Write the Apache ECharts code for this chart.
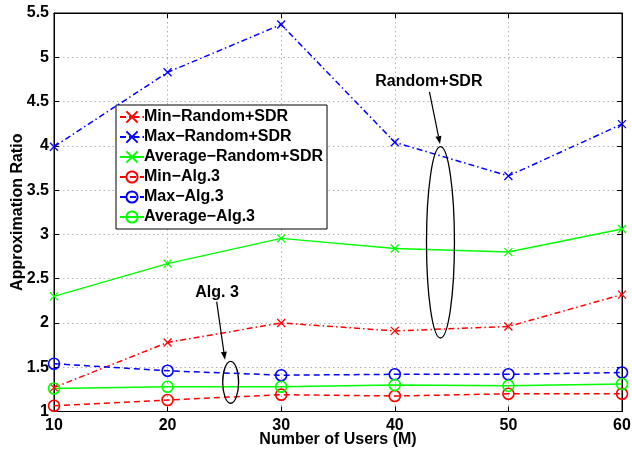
<!DOCTYPE html>
<html>
<head>
<meta charset="utf-8">
<script src="https://cdn.jsdelivr.net/npm/echarts@6/dist/echarts.min.js"></script>
<style>html,body{margin:0;padding:0;background:#fff}#c{width:632px;height:449px}</style>
</head>
<body>
<div id="c"></div>
<script>
const users = [10, 20, 30, 40, 50, 60];
const minRandom = [1.27, 1.78, 2.00, 1.91, 1.96, 2.32];
const maxRandom = [3.99, 4.83, 5.37, 4.04, 3.66, 4.245];
const avgRandom = [2.30, 2.67, 2.955, 2.84, 2.80, 3.06];
const minAlg = [1.065, 1.13, 1.19, 1.175, 1.20, 1.20];
const maxAlg = [1.54, 1.46, 1.41, 1.42, 1.42, 1.44];
const avgAlg = [1.26, 1.28, 1.28, 1.30, 1.29, 1.31];
const seriesNames = ['Min−Random+SDR','Max−Random+SDR','Average−Random+SDR','Min−Alg.3','Max−Alg.3','Average−Alg.3'];
const yTicks = [1, 1.5, 2, 2.5, 3, 3.5, 4, 4.5, 5, 5.5];

const FONT = 'Liberation Sans, Arial, Helvetica, sans-serif';
const RED = '#ff0000', BLUE = '#0000ff', GREEN = '#00ff00';
const CROSS = 'path://M0,0L10,10M10,0L0,10';
const dashDot = [6, 3, 1.5, 3];
const dashed = [6, 4];

function mk(name, vals, color, sym, lineType) {
  const isCross = sym === 'x';
  return {
    name: name, type: 'line',
    data: users.map((u, i) => [u, vals[i]]),
    symbol: isCross ? CROSS : 'circle',
    symbolSize: isCross ? 8 : 11,
    showAllSymbol: true,
    lineStyle: { color: color, width: 1.5, type: lineType },
    itemStyle: { color: isCross ? color : 'rgba(255,255,255,0)', borderColor: color, borderWidth: isCross ? 1.3 : 1.6 },
    emphasis: { disabled: true },
    animation: false,
    z: 3
  };
}

const chart = echarts.init(document.getElementById('c'), null, { renderer: 'canvas' });
const gridBox = { left: 54, top: 13, right: 10, bottom: 37.5 };
const axisCommon = {
  axisLine: { show: true, lineStyle: { color: '#000', width: 1 } },
  axisTick: { show: true, inside: true, length: 5, lineStyle: { color: '#000' } },
};
chart.setOption({
  backgroundColor: '#fff',
  animation: false,
  grid: Object.assign({ show: true, borderColor: '#000', borderWidth: 1, backgroundColor: 'transparent', containLabel: false, outerBoundsMode: 'none' }, gridBox),
  xAxis: [
    Object.assign({
      type: 'value', min: 10, max: 60, interval: 10, position: 'bottom',
      name: 'Number of Users (M)', nameLocation: 'middle', nameGap: 20, nameMoveOverlap: false,
      nameTextStyle: { fontFamily: FONT, fontWeight: 'bold', fontSize: 16, color: '#000' },
      axisLabel: { fontFamily: FONT, fontWeight: 'bold', fontSize: 16, color: '#000', margin: 6 },
      splitLine: { show: true, lineStyle: { color: '#b0b0b0', type: [1.5, 3], width: 1 } }
    }, axisCommon),
    Object.assign({
      type: 'value', min: 10, max: 60, interval: 10, position: 'top',
      axisLabel: { show: false }, splitLine: { show: false }
    }, axisCommon)
  ],
  yAxis: [
    Object.assign({
      type: 'value', min: yTicks[0], max: yTicks[yTicks.length - 1], interval: 0.5, position: 'left',
      name: 'Approximation Ratio', nameLocation: 'middle', nameGap: 28, nameRotate: 90, nameMoveOverlap: false,
      nameTextStyle: { fontFamily: FONT, fontWeight: 'bold', fontSize: 16, color: '#000' },
      axisLabel: { fontFamily: FONT, fontWeight: 'bold', fontSize: 16, color: '#000', margin: 5,
        formatter: v => String(v) },
      splitLine: { show: true, lineStyle: { color: '#b0b0b0', type: [1.5, 3], width: 1 } }
    }, axisCommon),
    Object.assign({
      type: 'value', min: yTicks[0], max: yTicks[yTicks.length - 1], interval: 0.5, position: 'right',
      axisLabel: { show: false }, splitLine: { show: false }
    }, axisCommon)
  ],
  legend: {
    orient: 'vertical', left: 116, top: 105,
    data: seriesNames,
    backgroundColor: '#fff', borderColor: '#000', borderWidth: 1,
    padding: [4, 4, 4, 3],
    itemWidth: 24, itemHeight: 14, itemGap: 4,
    textStyle: { fontFamily: FONT, fontWeight: 'bold', fontSize: 16, color: '#000', lineHeight: 16, padding: [0, 0, 0, -5] },
    selectedMode: false
  },
  series: [
    mk(seriesNames[0], minRandom, RED, 'x', dashDot),
    mk(seriesNames[1], maxRandom, BLUE, 'x', dashDot),
    mk(seriesNames[2], avgRandom, GREEN, 'x', 'solid'),
    mk(seriesNames[3], minAlg, RED, 'o', dashed),
    mk(seriesNames[4], maxAlg, BLUE, 'o', dashed),
    mk(seriesNames[5], avgAlg, GREEN, 'o', 'solid')
  ]
});

// Annotations defined in data coordinates
const annotations = [
  { text: 'Random+SDR', textAt: [43.0, 4.72], from: [43.05, 4.61], to: [43.98, 4.02], ell: [44.02, 2.91, 1.23, 1.08] },
  { text: 'Alg. 3', textAt: [24.35, 2.34], from: [24.32, 2.24], to: [25.05, 1.584], ell: [25.55, 1.33, 0.70, 0.237] }
];
const px = p => chart.convertToPixel({ gridIndex: 0 }, p);
const graphics = [];
annotations.forEach(a => {
  const t = px(a.textAt);
  graphics.push({ type: 'text', x: t[0], y: t[1], z: 10,
    style: { text: a.text, font: 'bold 16px ' + FONT, fill: '#000', textAlign: 'center', textVerticalAlign: 'middle' } });
  const f = px(a.from), to = px(a.to);
  const dx = to[0] - f[0], dy = to[1] - f[1];
  const len = Math.sqrt(dx * dx + dy * dy), ux = dx / len, uy = dy / len;
  const hl = 8, hw = 3;
  const bx = to[0] - ux * hl, by = to[1] - uy * hl;
  graphics.push({ type: 'line', z: 10, shape: { x1: f[0], y1: f[1], x2: bx, y2: by }, style: { stroke: '#000', lineWidth: 1.2 } });
  graphics.push({ type: 'polygon', z: 10, shape: { points: [[to[0], to[1]], [bx - uy * hw, by + ux * hw], [bx + uy * hw, by - ux * hw]] }, style: { fill: '#000' } });
  const c = px([a.ell[0], a.ell[1]]);
  const e1 = px([a.ell[0] + a.ell[2], a.ell[1] + a.ell[3]]);
  graphics.push({ type: 'ellipse', z: 10, shape: { cx: c[0], cy: c[1], rx: Math.abs(e1[0] - c[0]), ry: Math.abs(e1[1] - c[1]) },
    style: { fill: 'none', stroke: '#000', lineWidth: 1.3 } });
});
chart.setOption({ graphic: graphics });
</script>
</body>
</html>
